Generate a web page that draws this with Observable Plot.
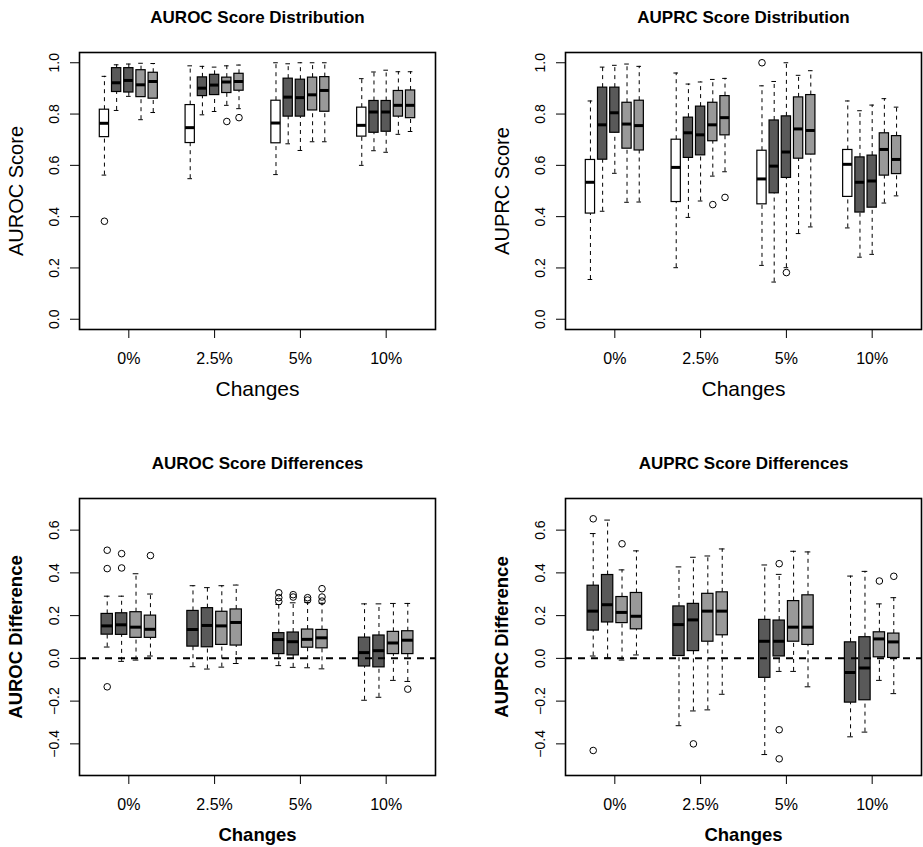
<!DOCTYPE html>
<html><head><meta charset="utf-8">
<script src="https://cdn.jsdelivr.net/npm/d3@7"></script>
<script src="https://cdn.jsdelivr.net/npm/@observablehq/plot@0.6"></script>
<style>
html,body{margin:0;padding:0;background:#fff;}
#root{position:relative;width:923px;height:847px;overflow:hidden;font-family:"Liberation Sans",Arial,sans-serif;}
#root > div{position:absolute;}
</style></head><body><div id="root"></div>
<script>
// ---------- data ----------
const changes = ["0%", "2.5%", "5%", "10%"];
const methods = ["Baseline", "Method 1", "Method 2", "Method 3", "Method 4"];
// each box: [lower whisker, Q1, median, Q3, upper whisker]; grouped by change level, then method
const aurocScore = [
  [[0.562,0.710,0.764,0.817,0.947],[0.814,0.886,0.922,0.979,0.992],[0.869,0.884,0.931,0.979,0.995],[0.778,0.866,0.914,0.971,0.998],[0.806,0.860,0.927,0.961,0.997]],
  [[0.548,0.687,0.747,0.835,0.988],[0.797,0.870,0.901,0.943,0.986],[0.810,0.874,0.913,0.953,0.983],[0.834,0.882,0.925,0.942,0.988],[0.821,0.891,0.927,0.957,0.991]],
  [[0.564,0.686,0.765,0.852,1.000],[0.684,0.790,0.866,0.938,0.996],[0.658,0.790,0.864,0.934,1.000],[0.692,0.814,0.875,0.942,1.000],[0.692,0.809,0.892,0.944,1.000]],
  [[0.600,0.712,0.756,0.825,0.938],[0.657,0.727,0.808,0.851,0.964],[0.651,0.731,0.808,0.851,0.971],[0.721,0.790,0.834,0.890,0.965],[0.732,0.784,0.834,0.892,0.965]]
];
// outliers: [change index, method index, value]
const aurocScoreOutliers = [[0,0,0.382],[1,3,0.771],[1,4,0.786]];

const auprcScore = [
  [[0.155,0.412,0.534,0.621,0.851],[0.421,0.622,0.758,0.903,0.983],[0.569,0.727,0.805,0.903,0.990],[0.456,0.665,0.761,0.844,0.995],[0.457,0.658,0.755,0.852,0.986]],
  [[0.201,0.457,0.592,0.700,0.960],[0.397,0.629,0.727,0.786,0.917],[0.461,0.639,0.719,0.829,0.925],[0.558,0.694,0.758,0.844,0.935],[0.575,0.717,0.786,0.870,0.939]],
  [[0.210,0.448,0.547,0.657,0.910],[0.145,0.491,0.597,0.775,0.927],[0.201,0.551,0.652,0.791,1.000],[0.334,0.626,0.742,0.865,0.951],[0.360,0.642,0.736,0.874,0.969]],
  [[0.356,0.477,0.604,0.660,0.851],[0.242,0.416,0.534,0.631,0.813],[0.253,0.435,0.539,0.638,0.835],[0.453,0.560,0.662,0.725,0.860],[0.481,0.566,0.623,0.714,0.827]]
];
const auprcScoreOutliers = [[1,3,0.447],[1,4,0.475],[2,0,1.000],[2,2,0.182]];

// differences: methods 1-4 against baseline
const aurocDiff = [
  [[0.053,0.111,0.152,0.208,0.291],[-0.014,0.110,0.157,0.211,0.291],[-0.008,0.096,0.146,0.216,0.396],[0.011,0.096,0.136,0.200,0.301]],
  [[-0.039,0.055,0.135,0.222,0.340],[-0.050,0.052,0.154,0.235,0.331],[-0.041,0.063,0.152,0.218,0.340],[-0.024,0.060,0.168,0.229,0.343]],
  [[-0.034,0.020,0.088,0.118,0.252],[-0.042,0.014,0.078,0.121,0.260],[-0.044,0.050,0.089,0.135,0.262],[-0.049,0.047,0.096,0.133,0.258]],
  [[-0.196,-0.038,0.027,0.097,0.255],[-0.182,-0.042,0.036,0.107,0.255],[-0.103,0.020,0.072,0.124,0.257],[-0.108,0.020,0.085,0.127,0.257]]
];
const aurocDiffOutliers = [[0,0,0.506],[0,0,0.420],[0,0,-0.133],[0,1,0.490],[0,1,0.423],[0,3,0.481],
  [2,0,0.307],[2,0,0.284],[2,0,0.266],[2,1,0.298],[2,1,0.287],[2,2,0.284],[2,2,0.273],[2,3,0.326],[2,3,0.287],[2,3,0.268],[3,3,-0.144]];

const auprcDiff = [
  [[0.011,0.130,0.221,0.340,0.584],[0.002,0.168,0.251,0.390,0.647],[-0.008,0.165,0.215,0.287,0.414],[0.016,0.136,0.197,0.306,0.503]],
  [[-0.315,0.011,0.158,0.243,0.428],[-0.246,0.034,0.180,0.255,0.473],[-0.241,0.078,0.221,0.302,0.479],[-0.168,0.108,0.221,0.309,0.512]],
  [[-0.450,-0.091,0.080,0.180,0.437],[-0.061,0.009,0.080,0.177,0.393],[-0.061,0.078,0.146,0.268,0.501],[-0.133,0.063,0.146,0.295,0.498]],
  [[-0.367,-0.207,-0.066,0.075,0.385],[-0.345,-0.196,-0.045,0.099,0.407],[-0.103,0.005,0.091,0.122,0.255],[-0.165,0.002,0.077,0.116,0.284]]
];
const auprcDiffOutliers = [[0,0,0.653],[0,0,-0.431],[0,2,0.536],[1,1,-0.400],[2,1,0.443],[2,1,-0.334],[2,1,-0.470],[3,2,0.362],[3,3,0.384]];

const scoreTicks = [0, 0.2, 0.4, 0.6, 0.8, 1.0];
const diffTicks = [-0.4, -0.2, 0, 0.2, 0.4, 0.6];

// ---------- styles ----------
const fills = {"Baseline": "#ffffff", "Method 1": "#595959", "Method 2": "#595959", "Method 3": "#999999", "Method 4": "#999999"};
const FONT = "'Liberation Sans', Arial, Helvetica, sans-serif";

function boxPanel({stats, outliers, ms, yDomain, yTicks, title, yLabel, bold, zeroLine, left, top, width, marginRight}) {
  const n = ms.length;
  const step = n === 5 ? 0.1422 : 0.168;
  const hw = n === 5 ? 0.054 : 0.066;
  const pos = (g, k) => g + 1 + (k - (n - 1) / 2) * step;
  const rows = [];
  stats.forEach((grp, g) => grp.forEach((s, k) => rows.push({g, m: ms[k], x: pos(g, k), lo: s[0], q1: s[1], med: s[2], q3: s[3], hi: s[4]})));
  const outs = outliers.map(([g, k, v]) => ({x: pos(g, k), v}));
  const marks = [
    Plot.ruleX(rows, {x: "x", y1: "lo", y2: "q1", stroke: "black", strokeWidth: 1, strokeDasharray: "4,4"}),
    Plot.ruleX(rows, {x: "x", y1: "q3", y2: "hi", stroke: "black", strokeWidth: 1, strokeDasharray: "4,4"}),
    Plot.ruleY(rows, {y: "lo", x1: d => d.x - hw / 2, x2: d => d.x + hw / 2, stroke: "black", strokeWidth: 1}),
    Plot.ruleY(rows, {y: "hi", x1: d => d.x - hw / 2, x2: d => d.x + hw / 2, stroke: "black", strokeWidth: 1}),
    Plot.rect(rows, {x1: d => d.x - hw, x2: d => d.x + hw, y1: "q1", y2: "q3", fill: d => fills[d.m], stroke: "black", strokeWidth: 1.2}),
    Plot.ruleY(rows, {y: "med", x1: d => d.x - hw, x2: d => d.x + hw, stroke: "black", strokeWidth: 3}),
    Plot.dot(outs, {x: "x", y: "v", r: 3.3, stroke: "black", strokeWidth: 1, fill: "none"})
  ];
  if (zeroLine) marks.push(Plot.ruleY([0], {stroke: "black", strokeWidth: 2, strokeDasharray: "7,6"}));
  marks.push(
    Plot.frame({stroke: "black", strokeWidth: 1.6}),
    Plot.axisX([1, 2, 3, 4], {tickFormat: i => changes[i - 1], tickSize: 9, tickPadding: 14, fontSize: 16, label: null}),
    Plot.axisY(yTicks, {tickFormat: d3.format(".1f"), tickSize: 9, tickPadding: 12, tickRotate: -90, fontSize: 14, label: null}),
    Plot.text([title], {text: d => d, frameAnchor: "top", dy: -35, lineAnchor: "middle", textAnchor: "middle", fontWeight: "bold", fontSize: 17}),
    Plot.text(["Changes"], {text: d => d, frameAnchor: "bottom", dy: 60, lineAnchor: "middle", textAnchor: "middle", fontWeight: bold ? "bold" : "normal", fontSize: bold ? 18.5 : 21}),
    Plot.text([yLabel], {text: d => d, frameAnchor: "left", dx: -63, rotate: -90, lineAnchor: "middle", textAnchor: "middle", fontWeight: bold ? "bold" : "normal", fontSize: bold ? 18.5 : 20})
  );
  const svg = Plot.plot({
    width, height: 401,
    marginLeft: 79, marginRight, marginTop: 52, marginBottom: 72,
    style: {fontFamily: FONT, background: "white", color: "black", overflow: "visible"},
    x: {domain: [0.425, 4.575], label: null},
    y: {domain: yDomain, label: null},
    color: {type: "identity"},
    marks
  });
  const div = document.createElement("div");
  div.style.left = left + "px";
  div.style.top = top + "px";
  div.appendChild(svg);
  document.getElementById("root").appendChild(div);
}

const scoreDomain = [-0.04, 1.04];
const diffDomain = [-0.548, 0.748];
const diffMethods = methods.slice(1);

boxPanel({stats: aurocScore, outliers: aurocScoreOutliers, ms: methods, yDomain: scoreDomain, yTicks: scoreTicks,
  title: "AUROC Score Distribution", yLabel: "AUROC Score", bold: false, zeroLine: false, left: 0, top: 0, width: 460, marginRight: 25});
boxPanel({stats: auprcScore, outliers: auprcScoreOutliers, ms: methods, yDomain: scoreDomain, yTicks: scoreTicks,
  title: "AUPRC Score Distribution", yLabel: "AUPRC Score", bold: false, zeroLine: false, left: 486, top: 0, width: 437, marginRight: 2});
boxPanel({stats: aurocDiff, outliers: aurocDiffOutliers, ms: diffMethods, yDomain: diffDomain, yTicks: diffTicks,
  title: "AUROC Score Differences", yLabel: "AUROC Difference", bold: true, zeroLine: true, left: 0, top: 446, width: 460, marginRight: 25});
boxPanel({stats: auprcDiff, outliers: auprcDiffOutliers, ms: diffMethods, yDomain: diffDomain, yTicks: diffTicks,
  title: "AUPRC Score Differences", yLabel: "AUPRC Difference", bold: true, zeroLine: true, left: 486, top: 446, width: 437, marginRight: 2});
</script>
</body></html>
